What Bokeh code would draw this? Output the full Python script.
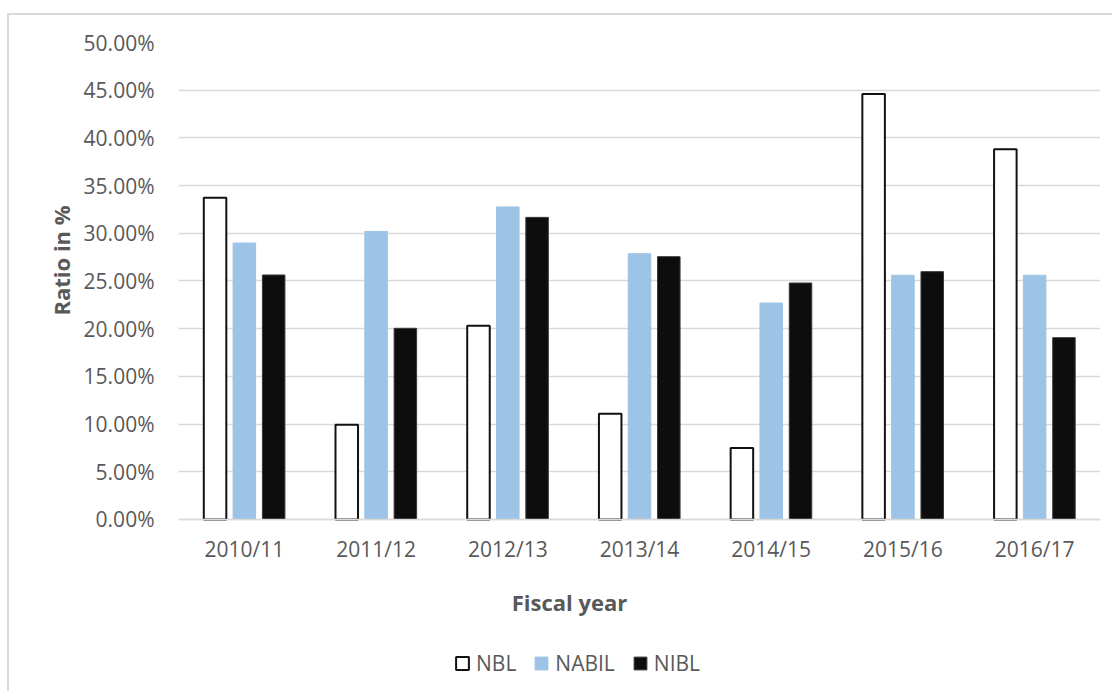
from bokeh.embed import file_html
from bokeh.models import (ColumnDataSource, FactorRange, FixedTicker, Label,
                          Legend, LegendItem, NumeralTickFormatter, Range1d, Title)
from bokeh.plotting import figure
from bokeh.resources import INLINE
from bokeh.transform import dodge

# Fiscal years and ratios (as fractions) for the three banks
years = ["2010/11", "2011/12", "2012/13", "2013/14", "2014/15", "2015/16", "2016/17"]
nbl = [0.3373, 0.0994, 0.2030, 0.1109, 0.0749, 0.4460, 0.3880]
nabil = [0.2898, 0.3020, 0.3276, 0.2786, 0.2269, 0.2560, 0.2560]
nibl = [0.2563, 0.2004, 0.3167, 0.2755, 0.2479, 0.2598, 0.1906]
y_ticks = [0.0, 0.05, 0.10, 0.15, 0.20, 0.25, 0.30, 0.35, 0.40, 0.45, 0.50]

FONT = "Open Sans"
TEXT = "#595959"
GRID = "#d9d9d9"

source = ColumnDataSource(data=dict(year=years, nbl=nbl, nabil=nabil, nibl=nibl))

# The frame reaches down to the bottom of the chart area, so the category
# axis, the x title and the legend all sit inside it below the zero line.
p = figure(
    x_range=FactorRange(*years, range_padding=0),
    y_range=Range1d(-0.1803, 0.5),
    frame_width=922, frame_height=649,
    min_border_left=169, min_border_right=12,
    min_border_top=27, min_border_bottom=0,
    output_backend="svg", toolbar_location=None,
)
p.styles = {
    "margin-left": "7px", "margin-top": "13px",
    "border-left": f"2px solid {GRID}", "border-top": f"2px solid {GRID}",
}
p.outline_line_color = None
p.background_fill_color = "white"
p.border_fill_color = "white"

bar_w = 0.171
off = 0.2225
r_nbl = p.vbar(x=dodge("year", -off, range=p.x_range), top="nbl", width=bar_w,
               source=source, fill_color="white", line_color="#111111", line_width=2)
r_nabil = p.vbar(x=dodge("year", 0.0, range=p.x_range), top="nabil", width=bar_w,
                 source=source, fill_color="#9dc3e6", line_color="#9dc3e6", line_width=1)
r_nibl = p.vbar(x=dodge("year", off, range=p.x_range), top="nibl", width=bar_w,
                source=source, fill_color="#0d0d0d", line_color="#3a3a3a", line_width=1)

# Axes
p.yaxis.ticker = FixedTicker(ticks=y_ticks)
p.yaxis.formatter = NumeralTickFormatter(format="0.00%")
p.yaxis.axis_line_color = None
p.yaxis.major_tick_line_color = None
p.yaxis.minor_tick_line_color = None
p.yaxis.major_label_standoff = 18
p.xaxis.fixed_location = 0
p.xaxis.axis_line_color = GRID
p.xaxis.axis_line_width = 1.5
p.xaxis.major_tick_line_color = None
p.xaxis.minor_tick_line_color = None
p.xaxis.major_label_standoff = 10
for ax in (p.xaxis, p.yaxis):
    ax.major_label_text_font = FONT
    ax.major_label_text_font_size = "21px"
    ax.major_label_text_color = TEXT

p.xgrid.grid_line_color = None
p.ygrid.ticker = FixedTicker(ticks=y_ticks)
p.ygrid.grid_line_color = GRID
p.ygrid.grid_line_width = 1.5

# Axis titles
p.add_layout(Label(x=2.969, y=-0.087, text="Fiscal year", text_font=FONT,
                   text_font_size="22px", text_font_style="bold", text_color=TEXT,
                   text_align="center", text_baseline="middle"))
y_title = Title(text="Ratio in %", align="left", offset=376, standoff=10,
                text_font=FONT, text_font_size="22px", text_font_style="bold",
                text_color=TEXT)
p.add_layout(y_title, "left")

legend = Legend(
    items=[LegendItem(label="NBL", renderers=[r_nbl]),
           LegendItem(label="NABIL", renderers=[r_nabil]),
           LegendItem(label="NIBL", renderers=[r_nibl])],
    orientation="horizontal", location=(276, 14),
    glyph_width=16, glyph_height=16, label_standoff=6, spacing=17,
    label_text_font=FONT, label_text_font_size="21px", label_text_color=TEXT,
    padding=0, margin=0, border_line_color=None, background_fill_alpha=0,
)
p.add_layout(legend, "center")

open("out.html", "w").write(file_html(p, INLINE))
